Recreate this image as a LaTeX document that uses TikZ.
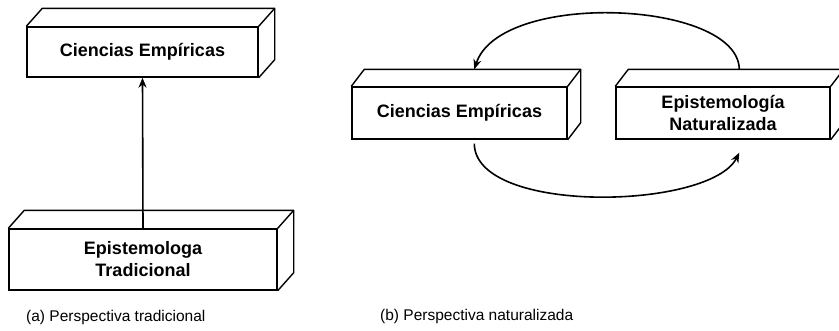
\documentclass[tikz,border=0pt]{standalone}
\usepackage{fontspec}
\setmainfont{Liberation Sans}
\usetikzlibrary{calc,arrows.meta}
\tikzset{
  cube/.style={draw, line width=1.4pt, inner sep=0pt, align=center,
    font=\fontsize{18}{22}\selectfont\bfseries},
  caption/.style={anchor=west, inner sep=0pt, font=\fontsize{15.5}{18}\selectfont},
  link/.style={line width=1.6pt, -{Stealth[length=10pt,width=8pt]}},
  face/.style={line width=1.4pt, line join=round}
}
\newcommand{\cubefaces}[3]{%
  \draw[face] (#1.north west) -- ++(#2,-#3) -- ($(#1.north east)+(#2,-#3)$)
    -- ($(#1.south east)+(#2,-#3)$) -- (#1.south east);
  \draw[face] ($(#1.north east)+(#2,-#3)$) -- (#1.north east);
}
\begin{document}
\begin{tikzpicture}[x=1pt,y=-1pt]
\useasboundingbox (0,0) rectangle (839,330);
\clip (0,0) rectangle (839,330);
% (a)
\node[cube, minimum width=231pt, minimum height=50pt] (ceA) at (142.5,52) {Ciencias Empíricas};
\cubefaces{ceA}{16}{18}
\node[cube, minimum width=268pt, minimum height=61pt] (et) at (143,259.5) {Epistemologa\\Tradicional};
\cubefaces{et}{16}{18}
\draw[link] (et.north) -- (ceA.south);
\node[caption] (capA) at (26,317) {(a) Perspectiva tradicional};
% (b)
\node[cube, minimum width=215pt, minimum height=52pt] (ceB) at (459.5,113) {Ciencias Empíricas};
\cubefaces{ceB}{13}{17}
\node[cube, minimum width=214pt, minimum height=52pt] (en) at (723,113) {Epistemología\\Naturalizada};
\cubefaces{en}{13}{17}
\coordinate (topS) at ($(en.north west)+(124,-17)$);
\coordinate (topE) at ($(ceB.north west)+(123,-17)$);
\draw[link] (topS) .. controls (738,0) and (500,-10) .. (topE);
\coordinate (botS) at ($(ceB.south west)+(123,4)$);
\coordinate (botE) at ($(en.south west)+(124,13)$);
\draw[link] (botS) .. controls (475,215) and (710,210) .. (botE);
\node[caption] (capB) at (380,316) {(b) Perspectiva naturalizada};
\end{tikzpicture}
\end{document}
